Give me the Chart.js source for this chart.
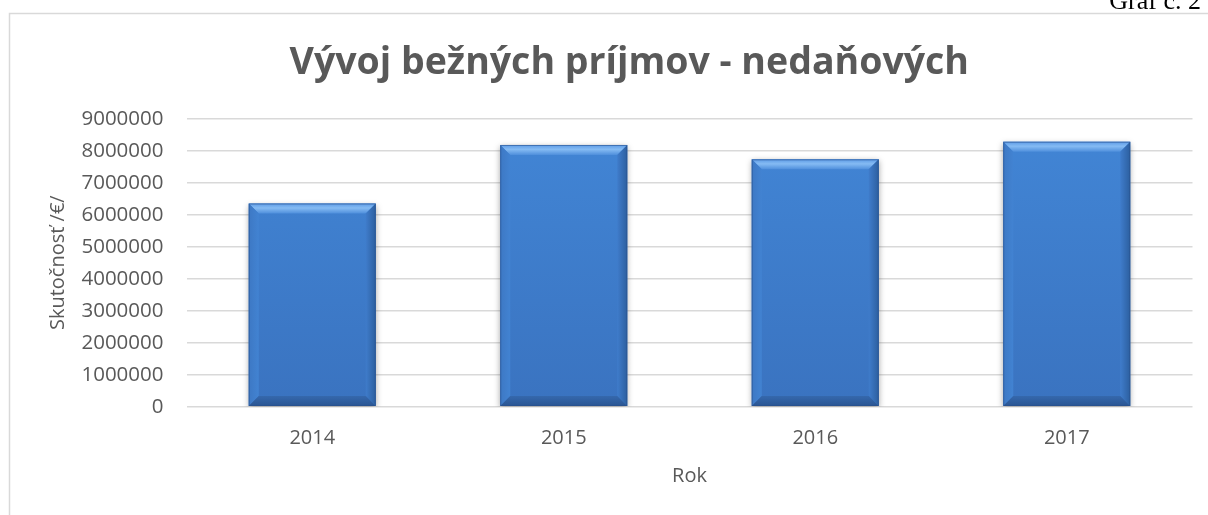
<!DOCTYPE html>
<html>
<head>
<meta charset="utf-8">
<script src="https://cdn.jsdelivr.net/npm/chart.js@4"></script>
<style>
  html, body { margin: 0; padding: 0; background: #fff; }
  #wrap { width: 1208px; height: 515px; }
</style>
</head>
<body>
<div id="wrap"><canvas id="chart" width="1208" height="515"></canvas></div>
<script>
// Data
var years = ["2014", "2015", "2016", "2017"];
var prijmy = [6350000, 8180000, 7730000, 8280000];
var yTicks = [0, 1000000, 2000000, 3000000, 4000000, 5000000, 6000000, 7000000, 8000000, 9000000];

var chartTitle = "Vývoj bežných príjmov - nedaňových";
var yTitle = "Skutočnosť /€/";
var xTitle = "Rok";
var caption = "Graf č. 2";

var grey = "#595959";
var font = "'Open Sans', sans-serif";

// frame + caption behind the chart
const frame = {
    id: 'frame',
    beforeDraw(chart) {
        const ctx = chart.ctx;
        ctx.save();
        ctx.fillStyle = '#fff';
        ctx.fillRect(0, 0, chart.width, chart.height);
        ctx.strokeStyle = '#d9d9d9';
        ctx.lineWidth = 1.5;
        ctx.strokeRect(9.5, 13.5, 1300, 600);
        ctx.fillStyle = '#000';
        ctx.font = "26px 'Liberation Serif', serif";
        ctx.textAlign = 'right';
        ctx.textBaseline = 'alphabetic';
        ctx.fillText(caption, 1201, 9);
        ctx.restore();
    }
};

// bevel look on the bars
const bevel = {
    id: 'bevel',
    beforeDatasetsDraw(chart) {
        const ctx = chart.ctx;
        ctx.save();
        ctx.shadowColor = 'rgba(0,0,0,0.35)';
        ctx.shadowBlur = 6;
        ctx.shadowOffsetY = 2;
    },
    afterDatasetsDraw(chart) {
        const ctx = chart.ctx;
        ctx.restore();
        ctx.save();
        chart.getDatasetMeta(0).data.forEach(function(bar) {
            const l = bar.x - bar.width / 2, r = bar.x + bar.width / 2;
            const t = bar.y, b = bar.base;
            const d = 10;
            // top
            let g = ctx.createLinearGradient(0, t, 0, t + d);
            g.addColorStop(0, '#5d9be6');
            g.addColorStop(0.45, '#85bbf3');
            g.addColorStop(1, '#4f8fdc');
            ctx.fillStyle = g;
            ctx.beginPath();
            ctx.moveTo(l, t); ctx.lineTo(r, t); ctx.lineTo(r - d, t + d); ctx.lineTo(l + d, t + d);
            ctx.closePath(); ctx.fill();
            // left
            g = ctx.createLinearGradient(l, 0, l + d, 0);
            g.addColorStop(0, '#3d78c4');
            g.addColorStop(1, '#4283d2');
            ctx.fillStyle = g;
            ctx.beginPath();
            ctx.moveTo(l, t); ctx.lineTo(l + d, t + d); ctx.lineTo(l + d, b - d); ctx.lineTo(l, b);
            ctx.closePath(); ctx.fill();
            // right
            g = ctx.createLinearGradient(r - d, 0, r, 0);
            g.addColorStop(0, '#3f7ccb');
            g.addColorStop(1, '#2c5f9f');
            ctx.fillStyle = g;
            ctx.beginPath();
            ctx.moveTo(r, t); ctx.lineTo(r - d, t + d); ctx.lineTo(r - d, b - d); ctx.lineTo(r, b);
            ctx.closePath(); ctx.fill();
            // bottom
            g = ctx.createLinearGradient(0, b - d, 0, b);
            g.addColorStop(0, '#3568ad');
            g.addColorStop(1, '#2a5592');
            ctx.fillStyle = g;
            ctx.beginPath();
            ctx.moveTo(l, b); ctx.lineTo(l + d, b - d); ctx.lineTo(r - d, b - d); ctx.lineTo(r, b);
            ctx.closePath(); ctx.fill();
            ctx.strokeStyle = 'rgba(40,80,140,0.6)';
            ctx.lineWidth = 1;
            ctx.strokeRect(l + 0.5, t + 0.5, r - l - 1, b - t - 1);
        });
        ctx.restore();
    }
};

var ctx = document.getElementById('chart');

new Chart(ctx, {
    type: 'bar',
    data: {
        labels: years,
        datasets: [{
            data: prijmy,
            backgroundColor: function(c) {
                const area = c.chart.chartArea;
                if (!area) return '#3f7fd0';
                const g = c.chart.ctx.createLinearGradient(0, area.top, 0, area.bottom);
                g.addColorStop(0, '#4286d6');
                g.addColorStop(1, '#3a73c0');
                return g;
            },
            borderWidth: 0,
            barPercentage: 0.505,
            categoryPercentage: 1
        }]
    },
    options: {
        responsive: false,
        animation: false,
        devicePixelRatio: 1,
        // left padding shifts the title centre to match the frame
        layout: { padding: { left: 66, right: 15.5, top: 0, bottom: 0 } },
        plugins: {
            legend: { display: false },
            tooltip: { enabled: false },
            title: {
                display: true,
                text: chartTitle,
                color: grey,
                font: { family: font, size: 37.5, weight: 'bold' },
                padding: { top: 40.5, bottom: 33.2 }
            }
        },
        scales: {
            x: {
                grid: { display: false, drawTicks: false },
                border: { display: false },
                ticks: { color: grey, font: { family: font, size: 20 }, padding: 20 },
                title: { display: true, text: xTitle, color: grey, font: { family: font, size: 20 }, padding: { top: 4, bottom: 27 } },
                afterFit: function(s) { s.height = 515 - 406.7; }
            },
            y: {
                min: 0,
                max: 9000000,
                afterBuildTicks: function(s) { s.ticks = yTicks.map(function(v) { return { value: v }; }); },
                grid: { color: '#d9d9d9', lineWidth: 1.4, drawTicks: false },
                border: { display: false },
                ticks: {
                    color: grey,
                    font: { family: font, size: 20.5 },
                    padding: 23,
                    callback: function(v) { return String(v); }
                },
                title: { display: true, text: yTitle, color: grey, font: { family: font, size: 20 }, padding: { top: -20 } },
                afterFit: function(s) { s.width = 186.5 - 66; }
            }
        }
    },
    plugins: [frame, bevel]
});
</script>
</body>
</html>
